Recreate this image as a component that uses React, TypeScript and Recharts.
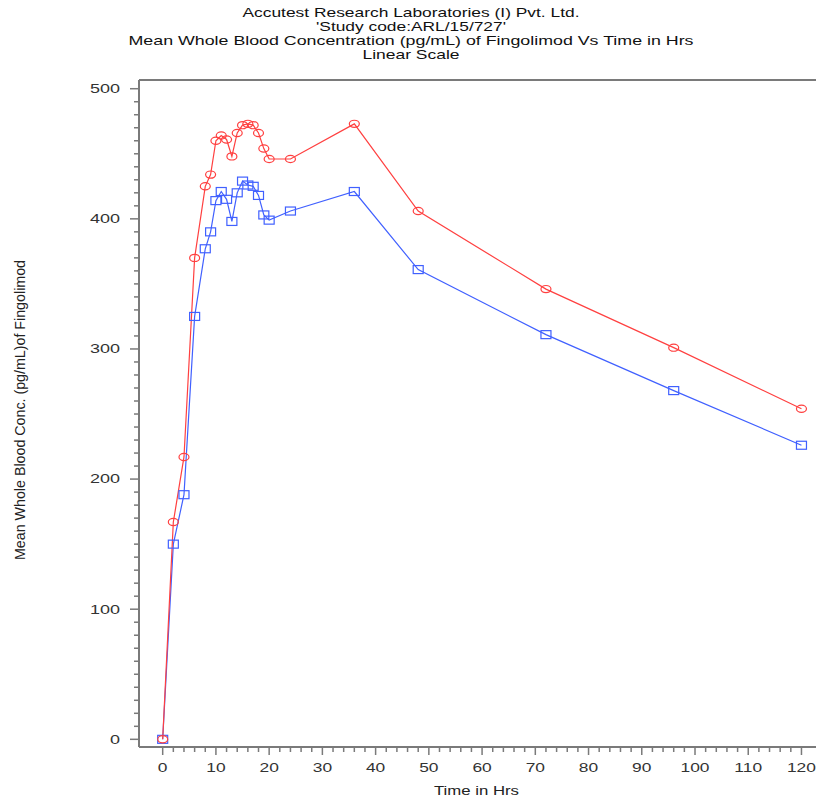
import { LineChart, Line, XAxis, YAxis, ReferenceLine } from "recharts";

// sampling times (hrs) and mean whole blood concentrations (pg/mL)
const hours = [0, 2, 4, 6, 8, 9, 10, 11, 12, 13, 14, 15, 16, 17, 18, 19, 20, 24, 36, 48, 72, 96, 120];
const redMean = [0, 167, 217, 370, 425, 434, 460, 464, 461, 448, 466, 472, 473, 472, 466, 454, 446, 446, 473, 406, 346, 301, 254];
const blueMean = [0, 150, 188, 325, 377, 390, 414, 421, 415, 398, 420, 429, 426, 425, 418, 403, 399, 406, 421, 361, 311, 268, 226];

const xMajorTicks = [0, 10, 20, 30, 40, 50, 60, 70, 80, 90, 100, 110, 120];
const yMajorTicks = [0, 100, 200, 300, 400, 500];

const titleLines = [
  "Accutest Research Laboratories (I) Pvt. Ltd.",
  "'Study code:ARL/15/727'",
  "Mean Whole Blood Concentration (pg/mL) of Fingolimod Vs Time in Hrs",
  "Linear Scale",
];
const titleWidths = [337, 190, 565, 97];
const xTitle = "Time in Hrs";
const yTitle = "Mean Whole Blood Conc. (pg/mL)of Fingolimod";

const RED = "#ff4040";
const BLUE = "#4060ff";
const AXIS = "#7a7a7a";
const FONT = "'Liberation Sans', Arial, sans-serif";

const WIDTH = 816;
const HEIGHT = 804;
const TOP = 80;
const Y_AXIS_WIDTH = 139;
const X_AXIS_HEIGHT = 57;
const PLOT_BOTTOM = HEIGHT - X_AXIS_HEIGHT;

const X_DOMAIN: [number, number] = [-4.45, 122.73];
const Y_DOMAIN: [number, number] = [-5.9, 506.7];

// minor ticks every 2 hrs / 10 pg/mL, majors get labels
const xTicks: number[] = [];
for (let t = 0; t <= 120; t += 2) xTicks.push(t);
const yTicks: number[] = [];
for (let v = 0; v <= 500; v += 10) yTicks.push(v);

const data = hours.map((h, i) => ({ hours: h, red: redMean[i], blue: blueMean[i] }));

function XTick({ x, payload }: any) {
  const major = xMajorTicks.includes(payload.value);
  return (
    <g>
      <line x1={x} x2={x} y1={PLOT_BOTTOM} y2={PLOT_BOTTOM + (major ? 8 : 5)} stroke={AXIS} strokeWidth={1.5} />
      {major && (
        <text
          transform={`translate(${x},${PLOT_BOTTOM + 25}) scale(1.45,1)`}
          textAnchor="middle"
          fontFamily={FONT}
          fontSize={12}
          fill="#333"
        >
          {payload.value}
        </text>
      )}
    </g>
  );
}

function YTick({ y, payload }: any) {
  const major = yMajorTicks.includes(payload.value);
  return (
    <g>
      <line x1={Y_AXIS_WIDTH - (major ? 9 : 5)} x2={Y_AXIS_WIDTH} y1={y} y2={y} stroke={AXIS} strokeWidth={1.5} />
      {major && (
        <text
          transform={`translate(${Y_AXIS_WIDTH - 19},${y}) scale(1.5,1)`}
          textAnchor="end"
          dy="0.36em"
          fontFamily={FONT}
          fontSize={12}
          fill="#333"
        >
          {payload.value}
        </text>
      )}
    </g>
  );
}

const RedDot = (p: any) => (
  <ellipse key={`r${p.index}`} cx={p.cx} cy={p.cy} rx={5} ry={3.6} fill="none" stroke={RED} strokeWidth={1.2} />
);

const BlueDot = (p: any) => (
  <rect key={`b${p.index}`} x={p.cx - 5} y={p.cy - 4} width={10} height={8} fill="none" stroke={BLUE} strokeWidth={1.2} />
);

export default function App() {
  return (
    <div style={{ position: "absolute", left: 0, top: 0, width: WIDTH, height: HEIGHT, background: "#fff" }}>
      <svg width={WIDTH} height={TOP} style={{ position: "absolute", left: 0, top: 0 }}>
        {titleLines.map((line, i) => (
          <text
            key={line}
            x={411}
            y={17 + i * 14}
            textAnchor="middle"
            fontFamily={FONT}
            fontSize={13}
            fill="#111"
            textLength={titleWidths[i]}
            lengthAdjust="spacingAndGlyphs"
          >
            {line}
          </text>
        ))}
      </svg>
      <LineChart width={WIDTH} height={HEIGHT} data={data} margin={{ top: TOP, right: 0, bottom: 0, left: 0 }}>
        <XAxis
          dataKey="hours"
          type="number"
          domain={X_DOMAIN}
          allowDataOverflow
          ticks={xTicks}
          interval={0}
          tickLine={false}
          tick={(p: any) => <XTick {...p} />}
          axisLine={{ stroke: AXIS, strokeWidth: 2 }}
          height={X_AXIS_HEIGHT}
          label={{
            content: () => (
              <text
                x={476.5}
                y={795}
                textAnchor="middle"
                fontFamily={FONT}
                fontSize={13}
                fill="#222"
                textLength={85}
                lengthAdjust="spacingAndGlyphs"
              >
                {xTitle}
              </text>
            ),
          }}
        />
        <YAxis
          type="number"
          domain={Y_DOMAIN}
          allowDataOverflow
          ticks={yTicks}
          interval={0}
          tickLine={false}
          tick={(p: any) => <YTick {...p} />}
          axisLine={{ stroke: AXIS, strokeWidth: 2 }}
          width={Y_AXIS_WIDTH}
          label={{
            content: () => (
              <text
                transform="translate(25,410) rotate(-90)"
                textAnchor="middle"
                fontFamily={FONT}
                fontSize={14}
                fill="#222"
                textLength={300}
                lengthAdjust="spacingAndGlyphs"
              >
                {yTitle}
              </text>
            ),
          }}
        />
        <ReferenceLine y={Y_DOMAIN[1]} stroke={AXIS} strokeWidth={2} />
        <Line
          dataKey="blue"
          stroke={BLUE}
          strokeWidth={1.2}
          dot={BlueDot}
          activeDot={false}
          isAnimationActive={false}
        />
        <Line
          dataKey="red"
          stroke={RED}
          strokeWidth={1.2}
          dot={RedDot}
          activeDot={false}
          isAnimationActive={false}
        />
      </LineChart>
    </div>
  );
}
